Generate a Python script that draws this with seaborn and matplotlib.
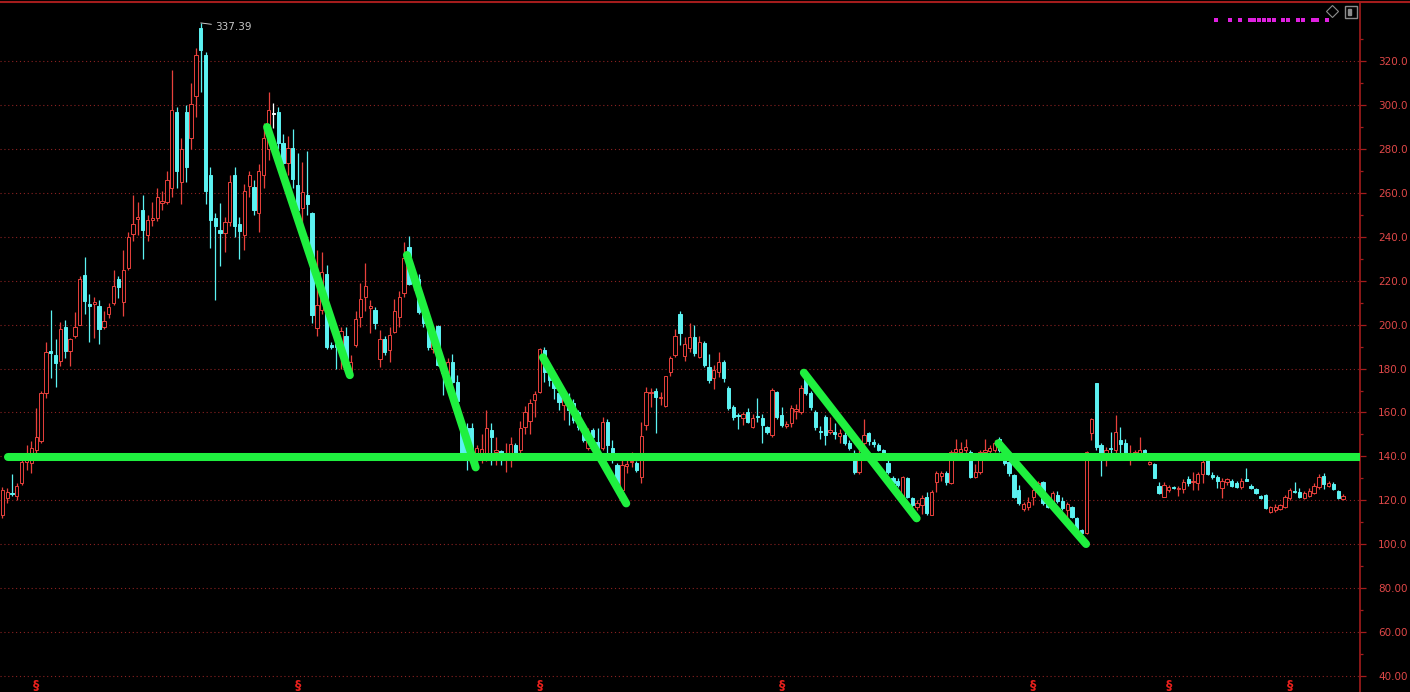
import numpy as np
import pandas as pd
import matplotlib
matplotlib.use("Agg")
import matplotlib.pyplot as plt
from matplotlib.lines import Line2D
from matplotlib.patches import Rectangle
import seaborn as sns

# 1. Daily candles, left to right
opens = [
    113.5, 121, 123.5, 122, 128, 137.5, 137, 143, 147, 169,
    188, 186, 183.5, 199, 188, 195, 200, 222.6, 209.5, 209.5,
    208.5, 199, 205, 210, 220.8, 210.3, 226, 241.3, 248, 252,
    240.8, 247.5, 248.5, 255.5, 256, 262, 297, 265, 297, 285,
    304, 335, 322.8, 268, 248.5, 243, 241.7, 246.7, 268, 246,
    241, 263, 262.7, 251, 268, 280, 296, 296.8, 282.7, 273.6,
    280.4, 263.6, 253, 259, 251, 198.5, 206.7, 223, 190.5, 191,
    190.7, 195, 178, 190.7, 203.5, 212.6, 207.7, 206.7, 184.4, 193.5,
    188.5, 196.6, 203.5, 214.4, 235.4, 219, 221, 208, 200, 189,
    199.4, 181.6, 178, 183, 174, 153.4, 153, 153, 139, 139.5,
    140.6, 152, 142, 142.5, 140, 141.5, 145, 143, 153.4, 156,
    165.7, 169.3, 188.5, 178.4, 174.8, 169, 163.4, 165.7, 164.3, 160,
    150.7, 143.8, 152, 146.6, 143.8, 155.7, 143.8, 136, 124.7, 135.6,
    137.3, 137, 130.6, 154.3, 168.9, 169.8, 166.8, 163, 178.4, 186.2,
    204.8, 185.7, 189.4, 194.4, 185.3, 191.6, 180.7, 175.7, 178.4, 183,
    171, 162.5, 158.6, 157.5, 160, 153.4, 158, 157.5, 153.4, 149.7,
    169.3, 158.8, 153.8, 155.2, 160.5, 160, 175.7, 169, 160, 151.5,
    158, 151, 151, 149.5, 149.7, 146, 139.3, 132.9, 146, 150.7,
    146.5, 145.2, 143, 137, 130.2, 129, 121.5, 130, 121, 117,
    118, 121.5, 113.3, 128.3, 131, 132.4, 127.9, 142, 142, 143,
    142, 130.6, 132.9, 142, 142.5, 143, 148, 143, 137.5, 131.5,
    124.7, 116, 117, 121.5, 123.8, 128.3, 121.5, 119.2, 122.5, 119.7,
    115.6, 117, 112, 106.5, 105, 150.7, 173.4, 145, 141.5, 144,
    143, 147.5, 146, 140.6, 140.6, 140.6, 143, 136.5, 136.5, 126.5,
    121.5, 124.5, 125.8, 125, 125, 129.7, 128.3, 128, 132, 138.4,
    131.5, 130.5, 125.6, 128.3, 128.8, 127.9, 126, 129.7, 126.5, 125,
    121.9, 122.4, 114.7, 115.5, 116, 117, 121, 124.3, 123.8, 121,
    122, 123.3, 126, 131, 126.5, 127.4, 124.3, 120.6,
]
closes = [
    124.5, 124, 123, 126.5, 137.5, 140, 144, 149, 169, 187.5,
    187, 182.5, 198, 188, 193.5, 199, 221, 210.8, 208.5, 210.5,
    198, 201.6, 208, 217.6, 217, 225, 240, 246, 249, 243,
    247.6, 248.5, 258, 256.5, 266, 297.7, 270, 280, 272, 300.5,
    323, 325, 261, 247.6, 245, 241.7, 246.7, 265, 245, 242.6,
    261, 268, 252, 270, 285, 297.7, 296, 282.7, 273.6, 280.4,
    266.3, 252.2, 260.4, 255, 204.4, 209, 224, 190, 190, 190,
    197, 184, 183, 202.6, 211.7, 217.6, 208.3, 200.7, 193.5, 187.5,
    195.3, 206, 212.6, 230.3, 218.5, 221, 205.8, 200.7, 190, 196,
    181.6, 178, 183, 174, 165, 141.5, 141, 143, 143.8, 143.5,
    153, 148.8, 143, 139.5, 141, 145.6, 141.5, 153, 160, 164.3,
    168.4, 189, 178.4, 174.8, 171, 164.8, 167, 161, 156.6, 153.4,
    147.5, 148.8, 149, 143.8, 155.7, 145.2, 138.4, 127.9, 136, 136.6,
    137.8, 133.8, 149.3, 169.3, 169.3, 167, 167.2, 176.6, 184.8, 194.8,
    196.2, 191.2, 194.4, 187, 192, 181.6, 174.8, 179.3, 183, 175.7,
    162, 158, 158.2, 159.3, 155.7, 157.5, 157.8, 154.3, 151, 170.2,
    158, 154.3, 154.8, 162, 161.5, 171, 168.9, 162.5, 153.4, 151,
    149.7, 152, 150, 150.5, 146, 143.8, 132.9, 138.4, 149.7, 147,
    145.5, 143, 140.6, 132.9, 128, 127, 130.6, 121.5, 117.9, 118.8,
    121, 114, 123.8, 132.4, 132.4, 128.3, 142, 143.4, 143.4, 144.4,
    130.6, 132.9, 142, 143, 144, 146, 143, 137, 132.4, 121.5,
    118.8, 118.3, 119.2, 124.7, 127.9, 118.8, 117, 123.3, 119.5, 116.5,
    118.3, 112.4, 106.5, 105, 142, 157, 144.3, 141.5, 143, 143.5,
    151, 145.5, 141.5, 141.5, 142, 143, 141.5, 137.5, 130.2, 123.3,
    127, 126, 125.5, 125.8, 128.3, 128, 129, 132, 137.5, 132,
    130.5, 129, 128.8, 129.7, 126.5, 126, 128.8, 129, 125.7, 123.3,
    121, 116.5, 117, 117, 118, 121.5, 124.7, 123.8, 121.5, 123.3,
    124.3, 126.5, 130.6, 127.4, 127.9, 125, 121, 122,
]
highs = [
    126, 125.6, 132, 128, 140, 145, 147, 162, 170, 192,
    206.7, 193.5, 201, 202, 194, 205.7, 222, 231, 214, 212.5,
    211, 206, 210, 225, 222, 234, 242, 259, 256, 259,
    250, 256, 262, 261, 270, 316, 299, 285, 300, 310,
    326, 337.39, 324, 272, 251, 255.4, 249, 268, 272, 249,
    264, 270, 266, 273, 292, 306, 301, 299, 287, 286,
    289, 278, 274, 279, 251.3, 234, 233, 227, 192, 192,
    199, 199, 186, 206, 219, 228, 211, 208, 197.5, 195,
    199, 211.7, 215.5, 237.7, 240.3, 225, 223, 209, 201.6, 199,
    200, 184, 185, 186.5, 177, 155, 155, 155, 145, 150,
    161, 155, 149, 143, 146, 149, 146, 156, 163, 166,
    170, 189.5, 190, 181.6, 177.5, 174, 170, 169, 166, 161,
    153, 153, 153, 153, 158, 157, 147.5, 137, 138.5, 140.6,
    142, 137.8, 155.7, 171.6, 171, 171, 169.3, 176.6, 185.7, 197.8,
    206.4, 194.5, 200.6, 200, 195, 192.5, 186.6, 181.6, 187.5, 184,
    172, 163.4, 159.7, 160, 162, 159.3, 166.5, 159.3, 154, 171,
    170, 162.5, 156, 163.4, 164, 172.5, 178, 170, 161, 154,
    159, 158, 155, 152.5, 151, 147.5, 143, 143, 157, 151,
    148, 146, 143.5, 138.5, 131, 130, 131, 130.5, 121.5, 120,
    122.5, 123.8, 124.5, 133.2, 133.2, 133.2, 142.8, 148, 146.6, 148,
    142.8, 136.6, 142.8, 148, 145, 147.5, 149, 144, 138, 132,
    127, 119.2, 121.5, 126.5, 128.8, 129, 122, 124.2, 124.2, 121.5,
    119.2, 117.5, 112.5, 107, 142.5, 157.5, 173.4, 146, 144.5, 151,
    158.8, 153.5, 148, 145, 143, 149, 143.5, 138, 137, 128.3,
    128.3, 127, 126.5, 126.5, 129.5, 131, 133, 133, 140, 139,
    133, 131.5, 130, 130.2, 129.7, 129, 130.2, 134.7, 127.5, 125.5,
    122.5, 122.8, 117.5, 118.3, 118.5, 122.4, 125.6, 128.3, 125.6, 124.2,
    125.5, 127.8, 132, 132.3, 129, 128.3, 124.5, 123,
]
lows = [
    112, 119, 122, 120, 127, 134, 132.5, 141, 146, 166.6,
    175.7, 171.6, 181, 185, 181, 194, 200, 205, 192, 194,
    191, 198, 203, 209, 212, 204, 225, 238, 241, 230,
    238, 245, 247, 252, 255, 258, 262, 255, 265, 280,
    294.5, 306, 255, 235, 211, 226.7, 233, 245, 240, 230,
    234, 258, 250, 242, 262, 275, 289.5, 280, 269, 268,
    262, 249, 245, 250, 200.7, 195, 205, 189, 189, 180,
    180, 180, 176, 190, 199, 206, 196, 198, 180.7, 186,
    183, 196, 199, 212.6, 218, 216, 205, 199, 188.5, 187,
    181, 168, 176, 173, 163, 141, 134, 140, 137, 137,
    138, 136, 136, 136, 133, 135, 139, 141, 150, 150,
    158, 169, 174, 172, 166, 161, 156.6, 154.3, 155, 152,
    146.6, 143, 146, 143, 143, 141, 137, 126.6, 124.7, 132.5,
    135, 133, 128, 152, 162.5, 150.7, 163.4, 162.5, 176.6, 185.3,
    190.5, 183.5, 187.7, 185.7, 185, 180.7, 173.4, 170.5, 176, 174,
    161, 156.6, 152.5, 154.3, 155, 153, 155.7, 146, 150, 149,
    157, 153.4, 153, 153.4, 157, 159.3, 168, 161, 152, 148,
    145, 150, 148, 146, 145, 143, 132, 132, 143, 145,
    144.5, 142.5, 140, 132, 127.5, 126, 121, 121, 117, 115.5,
    113.8, 113.3, 113.3, 123.8, 129, 127, 127.5, 141.5, 141.5, 139.7,
    130, 130, 132, 141, 141, 142, 142, 136, 131, 121,
    118, 115, 115.6, 118, 122.8, 118, 116.5, 116, 119, 115.6,
    112, 112, 106, 104.5, 104.5, 147.5, 143, 131, 135.6, 141.5,
    141.5, 140, 140.6, 136, 139, 140, 141, 136, 130, 123,
    121.5, 124, 125, 122, 123.3, 126.5, 124.7, 124.7, 128, 131.5,
    129.5, 125.6, 121, 127, 126, 125.6, 125, 128.8, 125, 122.8,
    120.5, 116, 114.2, 114.7, 115.5, 116.5, 120, 123.3, 121, 120.5,
    121.5, 123, 125, 125, 126, 124.7, 120.5, 120,
]

# 2. Hand-drawn trend lines: start/end as (candle index, price)
trend_x0 = [54.7, 83.6, 111.7, 165.6, 205.8]
trend_y0 = [290.0, 231.7, 185.1, 178.1, 146.0]
trend_x1 = [71.8, 97.8, 128.9, 188.9, 223.9]
trend_y1 = [177.0, 135.0, 118.6, 111.8, 100.1]
support_level = 139.7
support_start = 1.2

# 3. Event markers along the bottom, price axis ticks, high label
marker_days = [7, 61, 111, 161, 213, 241, 266]
y_major = list(range(40, 321, 20))
y_minor = list(range(50, 331, 20))
peak_text = "337.39"

RED = "#e8413c"
CYAN = "#5cf2f2"
GREEN = "#1ff03f"
AXIS_RED = "#a41c1c"
GRID_RED = "#8c2222"

sns.set_theme(style="dark", rc={
    "axes.facecolor": "black",
    "figure.facecolor": "black",
    "axes.grid": False,
})
plt.rcParams["font.family"] = ["DejaVu Sans"]

df = pd.DataFrame({"o": opens, "h": highs, "l": lows, "c": closes})
df["day"] = np.arange(len(df))
n = len(df)

fig = plt.figure(figsize=(14.1, 6.92), dpi=100)
ax = fig.add_axes([0, 0, 1360 / 1410, 690.5 / 692])

# gridlines at major price levels
for v in y_major:
    ax.axhline(v, color=GRID_RED, lw=0.8, ls=(0, (1, 2.5)), zorder=0)

# candles: red hollow = up, cyan filled = down, white = flat
colors = np.where(df.c > df.o, RED, np.where(df.c < df.o, CYAN, "white"))
faces = np.where(df.c > df.o, "black", colors)
ax.vlines(df.day, df.l, df.h, colors=colors, lw=0.9, zorder=2)
body_lo = np.minimum(df.o, df.c)
body_h = np.maximum(np.abs(df.c - df.o), 0.45)
ax.bar(df.day, body_h, bottom=body_lo, width=0.68, color=faces,
       edgecolor=colors, linewidth=0.7, zorder=3)

# trend lines via seaborn
rows = []
for k in range(len(trend_x0)):
    rows.append({"seg": k, "x": trend_x0[k], "y": trend_y0[k]})
    rows.append({"seg": k, "x": trend_x1[k], "y": trend_y1[k]})
rows.append({"seg": 99, "x": support_start, "y": support_level})
rows.append({"seg": 99, "x": n + 10, "y": support_level})
lines = pd.DataFrame(rows)
sns.lineplot(data=lines, x="x", y="y", units="seg", estimator=None, sort=False,
             color=GREEN, linewidth=5.8, solid_capstyle="round", legend=False,
             ax=ax, zorder=5)

# peak label
peak_i = int(np.argmax(highs))
ax.annotate(peak_text, xy=(peak_i, highs[peak_i]), xytext=(10, -3),
            textcoords="offset points", color="#c8c8c8", fontsize=7.5,
            va="center", ha="left",
            arrowprops=dict(arrowstyle="-", color="#c8c8c8", lw=0.7,
                            shrinkA=0, shrinkB=0))

# bottom event markers
for d in marker_days:
    ax.text(d, 35.6, "§", color="#e8201c", fontsize=9, fontweight="bold",
            ha="center", va="center", zorder=6)

ax.set_xlim(-0.48, n - 1 + 3.5)
ax.set_ylim(32.71, 347.15)
ax.set_xlabel("")
ax.set_ylabel("")
ax.set_xticks([])

ax.yaxis.tick_right()
ax.set_yticks(y_major)
ax.set_yticklabels([f"{v:.1f}" if v >= 100 else f"{v:.2f}" for v in y_major])
ax.set_yticks(y_minor, minor=True)
ax.tick_params(axis="y", which="major", colors=AXIS_RED, labelcolor="#e04848",
               length=4, width=0.9, direction="out", pad=9, labelsize=7.5)
ax.tick_params(axis="y", which="minor", colors=AXIS_RED, length=2.5,
               width=0.9, direction="out")

for side in ["left", "bottom", "top"]:
    ax.spines[side].set_visible(False)
ax.spines["right"].set_color(AXIS_RED)
ax.spines["right"].set_linewidth(1.2)

# top border across the full width
fig.add_artist(Line2D([0, 1], [1 - 1.5 / 692] * 2, transform=fig.transFigure,
                      color=AXIS_RED, lw=1.5))

# small indicator strip and window icons in the top-right corner
dot_px = [1216, 1230, 1240, 1250, 1254, 1259, 1264, 1269, 1274, 1283,
          1288, 1298, 1303, 1313, 1317, 1327]
fig.add_artist(Line2D([p / 1410 for p in dot_px], [1 - 20 / 692] * len(dot_px),
                      transform=fig.transFigure, ls="none", marker="s",
                      markersize=2.6, markeredgewidth=0, color="#e020e0"))
fig.add_artist(Line2D([1332 / 1410], [1 - 11 / 692], transform=fig.transFigure,
                      ls="none", marker="D", markersize=6,
                      markerfacecolor="none", markeredgecolor="#8c8c8c",
                      markeredgewidth=0.8))
fig.add_artist(Rectangle((1345 / 1410, 1 - 18 / 692), 12 / 1410, 12 / 692,
                         transform=fig.transFigure, fill=False,
                         edgecolor="#8c8c8c", lw=1))
fig.add_artist(Rectangle((1348 / 1410, 1 - 15 / 692), 3 / 1410, 6 / 692,
                         transform=fig.transFigure, color="#8c8c8c"))

fig.savefig("out.png", dpi=100, facecolor="black")
